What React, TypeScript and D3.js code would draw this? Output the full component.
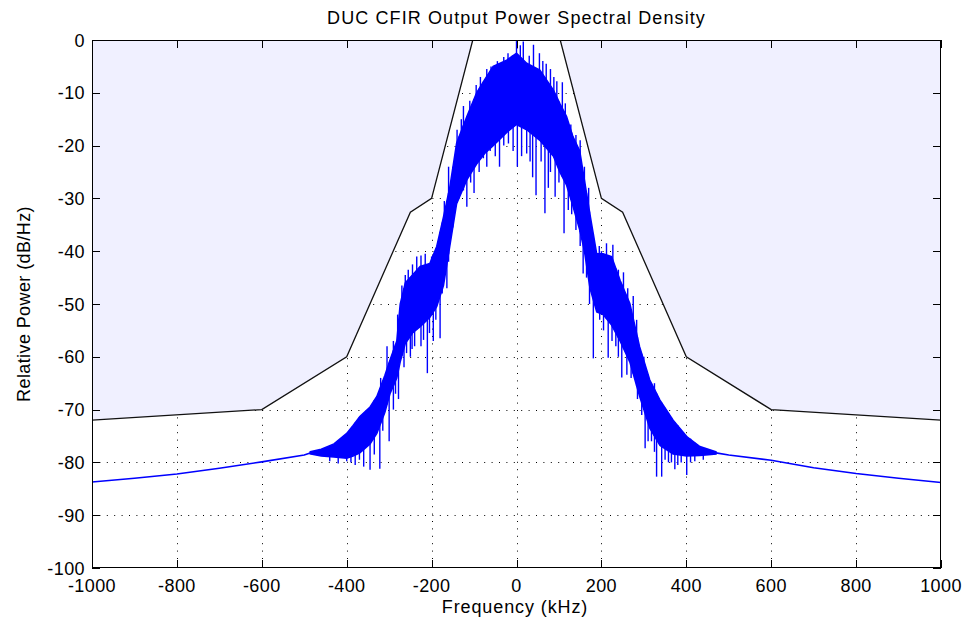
import React from "react";
import * as d3 from "d3";

// ---- data ----
const xTicks = [-1000, -800, -600, -400, -200, 0, 200, 400, 600, 800, 1000];
const yTicks = [0, -10, -20, -30, -40, -50, -60, -70, -80, -90, -100];

// spectral mask (black line), kHz / dB
const maskFreq = [-1000, -600, -400, -250, -200, -103, 103, 200, 250, 400, 600, 1000];
const maskDb = [-72, -70, -60, -32.6, -30, 0, 0, -30, -32.6, -60, -70, -72];

// smooth tails of the spectrum
const tailLeftFreq = [-1000, -900, -800, -700, -600, -500, -486];
const tailLeftDb = [-83.7, -83.0, -82.2, -81.1, -79.9, -78.6, -78.2];
const tailRightFreq = [470, 500, 600, 700, 800, 900, 1000];
const tailRightDb = [-78.2, -78.6, -79.6, -81.0, -82.1, -83.0, -83.8];

// noisy band of the spectrum: upper / lower envelope
const bandFreq = [-486, -460, -430, -400, -385, -369, -345, -329, -310, -298, -282, -274, -262, -245, -227, -204, -188, -172, -157, -141, -117, -94, -75, -55, -23, 0, 24, 55, 87, 102, 118, 133, 149, 160, 173, 189, 204, 224, 244, 267, 290, 314, 338, 369, 401, 432, 470];
const bandUpper = [-78.0, -77.5, -76.5, -74.5, -73.0, -71.3, -69.5, -67.5, -63.5, -60.6, -57.0, -50.0, -46.0, -44.5, -42.9, -42.3, -39.1, -33.5, -27.8, -19.5, -14.5, -10.0, -7.5, -5.0, -3.8, -2.5, -4.4, -5.7, -9.5, -12.0, -14.5, -18.3, -21.0, -26.5, -33.0, -40.5, -40.5, -41.0, -45.5, -49.9, -58.1, -64.4, -68.2, -72.0, -75.1, -77.0, -78.0];
const bandLower = [-78.4, -78.8, -79.0, -79.2, -78.8, -78.2, -76.5, -74.5, -70.5, -67.0, -64.0, -61.0, -57.5, -55.5, -54.3, -52.5, -50.5, -46.5, -39.0, -31.0, -26.5, -23.5, -21.5, -20.0, -17.5, -16.0, -17.0, -19.0, -22.0, -25.0, -27.5, -31.5, -36.0, -40.0, -47.0, -51.5, -52.0, -54.0, -57.0, -61.0, -67.5, -73.5, -76.8, -78.4, -78.8, -78.7, -78.4];

// downward spikes
const spikeDownFreq = [-440, -420, -400, -390, -380, -370, -360, -345, -335, -322, -315, -300, -290, -285, -278, -265, -259, -250, -246, -240, -225, -219, -210, -205, -196, -190, -180, -175, -164, -160, -150, -135, -125, -117, -108, -100, -88, -78, -70, -62, -50, -40, -30, -19, -8, 2, 12, 24, 32, 38, 46, 58, 67, 75, 80, 91, 100, 112, 122, 130, 140, 150, 157, 165, 172, 181, 196, 205, 216, 225, 234, 240, 248, 260, 270, 280, 285, 295, 303, 310, 318, 325, 330, 342, 350, 358, 365, 373, 380, 388, 401, 410, 420, 440];
const spikeDownDb = [-79.8, -80.2, -79.8, -80, -80.5, -79.5, -80.8, -81.4, -78.5, -81.2, -74, -76, -70, -67, -68, -62, -59.3, -60, -58.5, -58, -58, -56.8, -63.1, -55.5, -57, -53, -56.5, -48, -47, -42, -35, -30, -28.5, -31.6, -27, -29, -25, -22.4, -24, -21, -22, -24, -20, -19.6, -21, -24, -22, -21.5, -23, -26, -29.4, -23, -32.8, -28, -25, -29.7, -27, -36.6, -32.2, -33, -36, -39, -44.2, -45, -50, -60.3, -53, -55, -60.2, -57, -58, -60, -63.9, -63.4, -64, -64, -68, -71, -77.3, -76, -76, -78, -82.7, -82.7, -79.5, -80, -80, -81.3, -80.5, -80, -82.4, -80, -79.8, -79.5];

// upward spikes
const spikeUpFreq = [-320, -305, -290, -280, -270, -262, -255, -245, -235, -225, -215, -200, -180, -170, -160, -150, -140, -130, -125, -110, -95, -85, -70, -60, -45, -30, -20, -10, 0, 9, 16, 30, 40, 54, 62, 70, 80, 88, 95, 108, 115, 128, 140, 150, 160, 170, 195, 200, 212, 227, 240, 252, 262, 275, 283, 300, 325, 350, 380, 410];
const spikeUpDb = [-64, -58, -57, -52, -46.5, -44.5, -43.5, -42.5, -41, -40.8, -40.5, -41, -37, -30.5, -24, -24, -17, -15, -12.5, -11.5, -8.5, -7, -5.5, -5, -4, -3.2, -2.5, -3, -0.2, -1.0, -0.3, -3, -0.9, -2.5, -4, -4.5, -5.5, -7, -7.8, -8, -12, -16, -18, -19, -24, -28, -39, -40, -38.5, -38.8, -43.5, -44, -47, -48.5, -53, -60, -65, -70, -73, -75.5];

const FONT = "'Liberation Sans', Arial, sans-serif";

export default function App() {
  const W = 971, H = 626;
  const L = 92, R = 941, T = 40, B = 568;
  const x = d3.scaleLinear().domain([-1000, 1000]).range([L, R]);
  const y = d3.scaleLinear().domain([-100, 0]).range([B, T]);

  const upperAt = d3.scaleLinear().domain(bandFreq).range(bandUpper).clamp(true);
  const lowerAt = d3.scaleLinear().domain(bandFreq).range(bandLower).clamp(true);

  const maskPts = maskFreq.map((f, i) => [f, maskDb[i]] as [number, number]);
  const shade = d3
    .area<[number, number]>()
    .x((d) => x(d[0]))
    .y0(() => y(0))
    .y1((d) => y(d[1]))(maskPts);
  const maskLine = d3
    .line<[number, number]>()
    .x((d) => x(d[0]))
    .y((d) => y(d[1]))(maskPts);

  const line = d3
    .line<[number, number]>()
    .x((d) => x(d[0]))
    .y((d) => y(d[1]));
  const tailL = line(tailLeftFreq.map((f, i) => [f, tailLeftDb[i]]));
  const tailR = line(tailRightFreq.map((f, i) => [f, tailRightDb[i]]));

  const band = d3
    .area<number>()
    .x((f) => x(f))
    .y0((_, i) => y(bandLower[i]))
    .y1((_, i) => y(bandUpper[i]))(bandFreq);

  const blue = "#0000ff";
  const dash = "1,6.4";

  return (
    <svg
      width={W}
      height={H}
      style={{ position: "absolute", left: 0, top: 0, background: "#fff" }}
      fontFamily={FONT}
    >
      <defs>
        <clipPath id="plot">
          <rect x={L} y={T} width={R - L} height={B - T} />
        </clipPath>
      </defs>
      <rect x={0} y={0} width={W} height={H} fill="#fff" />
      {/* grid */}
      <g stroke="#000" strokeWidth={1} strokeDasharray={dash}>
        {xTicks.slice(1, -1).map((t) => (
          <line key={"gx" + t} x1={Math.round(x(t)) + 0.5} x2={Math.round(x(t)) + 0.5} y1={T} y2={B} />
        ))}
        {yTicks.slice(1, -1).map((t) => (
          <line key={"gy" + t} x1={L} x2={R} y1={Math.round(y(t)) + 0.5} y2={Math.round(y(t)) + 0.5} />
        ))}
      </g>
      <g clipPath="url(#plot)">
        <path d={shade || ""} fill="#f0f0ff" />
        <path d={maskLine || ""} fill="none" stroke="#111" strokeWidth={1.3} />
        <path d={tailL || ""} fill="none" stroke={blue} strokeWidth={1.6} />
        <path d={tailR || ""} fill="none" stroke={blue} strokeWidth={1.6} />
        <path d={band || ""} fill={blue} stroke={blue} strokeWidth={1.5} />
        <g stroke={blue} strokeWidth={1.4}>
          {spikeDownFreq.map((f, i) => (
            <line key={"sd" + i} x1={x(f)} x2={x(f)} y1={y(upperAt(f))} y2={y(spikeDownDb[i])} />
          ))}
          {spikeUpFreq.map((f, i) => (
            <line key={"su" + i} x1={x(f)} x2={x(f)} y1={y(lowerAt(f))} y2={y(spikeUpDb[i])} />
          ))}
        </g>
      </g>
      {/* axes box and ticks */}
      <rect x={L + 0.5} y={T + 0.5} width={R - L - 1} height={B - T - 1} fill="none" stroke="#000" strokeWidth={1} />
      <g stroke="#000" strokeWidth={1}>
        {xTicks.map((t) => (
          <g key={"tx" + t}>
            <line x1={Math.round(x(t)) + 0.5} x2={Math.round(x(t)) + 0.5} y1={B} y2={B - 8} />
            <line x1={Math.round(x(t)) + 0.5} x2={Math.round(x(t)) + 0.5} y1={T} y2={T + 8} />
          </g>
        ))}
        {yTicks.map((t) => (
          <g key={"ty" + t}>
            <line x1={L} x2={L + 8} y1={Math.round(y(t)) + 0.5} y2={Math.round(y(t)) + 0.5} />
            <line x1={R} x2={R - 8} y1={Math.round(y(t)) + 0.5} y2={Math.round(y(t)) + 0.5} />
          </g>
        ))}
      </g>
      {/* tick labels */}
      <g fontSize={18} fill="#000" letterSpacing={0.4}>
        {xTicks.map((t) => (
          <text key={"lx" + t} x={x(t)} y={592} textAnchor="middle">
            {t}
          </text>
        ))}
        {yTicks.map((t) => (
          <text key={"ly" + t} x={85} y={y(t) + 6.5} textAnchor="end">
            {t}
          </text>
        ))}
      </g>
      <text x={516.5} y={24} textAnchor="middle" fontSize={18} letterSpacing={1.1}>
        DUC CFIR Output Power Spectral Density
      </text>
      <text x={515} y={613} textAnchor="middle" fontSize={18} letterSpacing={0.9}>
        Frequency (kHz)
      </text>
      <text
        transform={`translate(30,${(T + B) / 2}) rotate(-90)`}
        textAnchor="middle"
        fontSize={18}
        letterSpacing={0.4}
      >
        Relative Power (dB/Hz)
      </text>
    </svg>
  );
}
